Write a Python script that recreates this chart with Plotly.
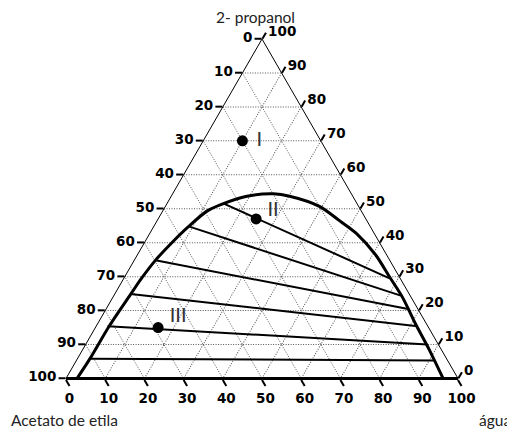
import plotly.graph_objects as go

# components: a = 2-propanol (top), b = Acetato de etila (bottom-left), c = água (bottom-right)
ticks = [0, 10, 20, 30, 40, 50, 60, 70, 80, 90, 100]
left_labels = [str(100 - v) for v in ticks]
bottom_labels = [str(100 - v) for v in ticks]
right_labels = [str(100 - v) for v in ticks]

# binodal curve (propanol, water); acetate = 100 - both
curve_a = [0.0, 6.0, 15.4, 24.9, 29.4, 34.8, 40.0, 44.8, 49.3, 51.3, 53.7, 54.4, 53.7, 50.7, 46.5, 42.8, 36.3, 29.9, 23.9, 15.9, 8.5, 0.0]
curve_c = [2.8, 3.2, 3.3, 4.1, 4.5, 5.4, 7.0, 8.9, 11.3, 14.0, 19.3, 25.7, 30.2, 39.3, 46.5, 52.6, 60.9, 67.6, 73.9, 81.3, 88.4, 96.2]

# tie lines: left (acetate-rich) and right (water-rich) ends
tie_left_a = [51.5, 44.8, 34.8, 24.9, 15.4, 5.8]
tie_left_c = [14.5, 8.9, 5.4, 4.05, 2.9, 3.4]
tie_right_a = [29.5, 24.4, 20.4, 15.4, 10.0, 5.3]
tie_right_c = [67.8, 73.2, 77.4, 82.0, 87.2, 91.3]

# mixture points
pt_names = ["I", "II", "III"]
pt_a = [70, 47, 15]
pt_b = [20, 28, 69]
pt_c = [10, 25, 16]

# styling: label offsets from the points (in composition units)
label_da = [0.0, 2.4, 3.2]
label_dc = [4.3, 3.1, 3.5]

OFF = 8  # page body margin
W, H = 515 - OFF, 434 - OFF


def px(xp):
    return (xp - OFF) / W


def py(yp):
    return 1 - (yp - OFF) / H


fig = go.Figure()

fig.add_trace(go.Scatterternary(
    a=curve_a, c=curve_c, b=[100 - x - y for x, y in zip(curve_a, curve_c)],
    mode="lines", line=dict(color="black", width=3, shape="spline", smoothing=0.8),
    hoverinfo="skip", showlegend=False))

for la, lc, ra, rc in zip(tie_left_a, tie_left_c, tie_right_a, tie_right_c):
    fig.add_trace(go.Scatterternary(
        a=[la, ra], c=[lc, rc], b=[100 - la - lc, 100 - ra - rc],
        mode="lines", line=dict(color="black", width=2),
        hoverinfo="skip", showlegend=False))

fig.add_trace(go.Scatterternary(
    a=pt_a, b=pt_b, c=pt_c, mode="markers",
    marker=dict(color="black", size=11), hoverinfo="skip", showlegend=False))

la_ = [a + d for a, d in zip(pt_a, label_da)]
lc_ = [c + d for c, d in zip(pt_c, label_dc)]
fig.add_trace(go.Scatterternary(
    a=la_, c=lc_, b=[100 - a - c for a, c in zip(la_, lc_)], mode="text", text=pt_names,
    textposition="middle center",
    textfont=dict(family="Lato", size=20, color="#333"),
    hoverinfo="skip", showlegend=False))

axis_common = dict(
    tickmode="array", tickvals=ticks, ticks="outside", ticklen=7, tickcolor="black",
    tickwidth=1.5, showgrid=True, gridcolor="#555", gridwidth=1, griddash="1px,1.5px",
    linecolor="black", tickfont=dict(family="DejaVu Sans", size=13.5, color="black", weight="bold"),
    title=dict(text=""), min=0)

cy = (377.5 + 40) / 2
fig.update_layout(
    width=W, height=H, margin=dict(l=0, r=0, t=0, b=0),
    paper_bgcolor="white", plot_bgcolor="white",
    ternary=dict(
        sum=100, bgcolor="white",
        domain=dict(x=[px(66), px(458)], y=[py(cy + 185), py(cy - 185)]),
        aaxis=dict(axis_common, ticktext=left_labels, linewidth=1),
        baxis=dict(axis_common, ticktext=bottom_labels, linewidth=3),
        caxis=dict(axis_common, ticktext=right_labels, linewidth=1),
    ),
    annotations=[
        dict(text="2- propanol", x=px(255), y=py(17), xref="paper", yref="paper",
             xanchor="center", yanchor="middle",
             showarrow=False, font=dict(family="Lato", size=15.5, color="#222")),
        dict(text="Acetato de etila", x=px(9), y=py(420), xref="paper", yref="paper",
             xanchor="left", yanchor="middle", showarrow=False,
             font=dict(family="Lato", size=15.5, color="#222")),
        dict(text="água", x=px(513), y=py(420), xref="paper", yref="paper",
             xanchor="right", yanchor="middle", showarrow=False,
             font=dict(family="Lato", size=15.5, color="#222")),
    ],
)

fig.write_html("out.html")
